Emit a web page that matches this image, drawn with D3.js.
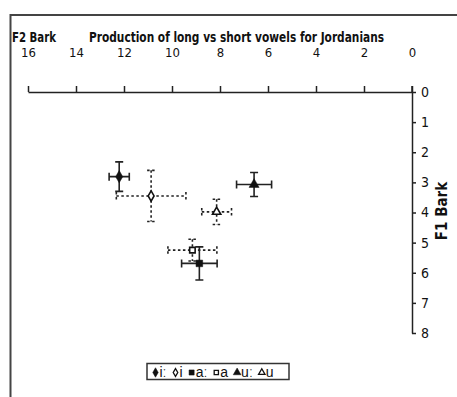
<!DOCTYPE html>
<html lang="en">
<head>
<meta charset="UTF-8">
<title>Production of long vs short vowels for Jordanians</title>
<script src="https://cdn.jsdelivr.net/npm/d3@7.9.0/dist/d3.min.js"></script>
<style>
  body { margin: 0; background: #fff; }
  svg text { font-family: "Liberation Sans Narrow", "Arial Narrow", "DejaVu Sans Condensed", sans-serif; fill: #111; }
  svg text.leg { font-family: "Liberation Sans", Arial, sans-serif; }
</style>
</head>
<body>
<div id="chart"></div>
<script>
// vowel means and standard deviations (Bark)
const vowels = ["iː", "i", "aː", "a", "uː", "u"];
const f2 = [12.2, 10.87, 8.86, 9.15, 6.58, 8.14];
const f1 = [2.81, 3.45, 5.69, 5.25, 3.07, 3.98];
const f2Err = [0.42, 1.45, 0.74, 1.02, 0.73, 0.62];
const f1Err = [0.49, 0.85, 0.55, 0.36, 0.40, 0.42];
const isLong = [true, false, true, false, true, false];
const xTicks = [16, 14, 12, 10, 8, 6, 4, 2, 0];
const yTicks = [0, 1, 2, 3, 4, 5, 6, 7, 8];

const W = 457, H = 397;
const ink = "#222";

const svg = d3.select("#chart").append("svg")
  .attr("width", W).attr("height", H);

// outer frame (right/bottom cut off in the original)
svg.append("rect")
  .attr("x", 10.5).attr("y", 15)
  .attr("width", W + 20).attr("height", H + 20)
  .attr("fill", "none").attr("stroke", "#444").attr("stroke-width", 2);

const x = d3.scaleLinear().domain([16, 0]).range([28, 412]);
const y = d3.scaleLinear().domain([0, 8]).range([92, 333]);

const shapes = [d3.symbolDiamond, d3.symbolDiamond, d3.symbolSquare,
                d3.symbolSquare, d3.symbolTriangle, d3.symbolTriangle];

// axes
const xAxis = svg.append("g")
  .attr("transform", `translate(0,${y(0)})`)
  .call(d3.axisTop(x).tickValues(xTicks).tickSize(6).tickPadding(29).tickSizeOuter(0));
xAxis.select(".domain").attr("stroke", ink).attr("stroke-width", 1.5);
xAxis.selectAll(".tick line").attr("stroke", ink).attr("stroke-width", 1.5);
xAxis.selectAll(".tick text").attr("font-size", 13).attr("fill", "#111");

const yAxis = svg.append("g")
  .attr("transform", `translate(${x(0)},0)`)
  .call(d3.axisRight(y).tickValues(yTicks).tickSize(4).tickPadding(5).tickSizeOuter(0));
yAxis.select(".domain").attr("stroke", ink).attr("stroke-width", 1.5);
yAxis.selectAll(".tick line").attr("stroke", ink).attr("stroke-width", 1.5);
yAxis.selectAll(".tick text").attr("font-size", 14).attr("fill", "#111");

// little cross at origin
svg.append("line")
  .attr("x1", x(0)).attr("x2", x(0))
  .attr("y1", y(0) - 6).attr("y2", y(0))
  .attr("stroke", ink).attr("stroke-width", 1.5);

// titles
svg.append("text").attr("x", 12).attr("y", 42)
  .attr("font-size", 14).attr("font-weight", "bold")
  .attr("textLength", 44).attr("lengthAdjust", "spacingAndGlyphs")
  .text("F2 Bark");
svg.append("text").attr("x", 89).attr("y", 42)
  .attr("font-size", 14).attr("font-weight", "bold")
  .attr("textLength", 295).attr("lengthAdjust", "spacingAndGlyphs")
  .text("Production of long vs short vowels for Jordanians");
svg.append("text")
  .attr("transform", "translate(447,211) rotate(-90)")
  .attr("text-anchor", "middle")
  .attr("font-size", 15).attr("font-weight", "bold").text("F1 Bark");

// error bars
const cap = 4;
const bars = svg.append("g").selectAll("g")
  .data(vowels.map((v, i) => i))
  .join("g")
  .attr("stroke", ink)
  .attr("stroke-width", 1.6)
  .attr("fill", "none")
  .attr("stroke-dasharray", i => isLong[i] ? null : "2.5,2.5");

bars.append("path").attr("d", i => {
  const cx = x(f2[i]), cy = y(f1[i]);
  const xl = x(f2[i] + f2Err[i]), xr = x(f2[i] - f2Err[i]);
  const yt = y(f1[i] - f1Err[i]), yb = y(f1[i] + f1Err[i]);
  return `M${xl},${cy}H${xr}` +
    `M${xl},${cy - cap}V${cy + cap}M${xr},${cy - cap}V${cy + cap}` +
    `M${cx},${yt}V${yb}` +
    `M${cx - cap},${yt}H${cx + cap}M${cx - cap},${yb}H${cx + cap}`;
});

// markers
svg.append("g").selectAll("path")
  .data(vowels.map((v, i) => i))
  .join("path")
  .attr("transform", i => `translate(${x(f2[i])},${y(f1[i])})`)
  .attr("d", i => d3.symbol(shapes[i], isLong[i] ? 44 : 30)())
  .attr("fill", i => isLong[i] ? "#111" : "#fff")
  .attr("stroke", "#111")
  .attr("stroke-width", i => isLong[i] ? 0.5 : 1.6);

// legend
const leg = svg.append("g");
leg.append("rect")
  .attr("x", 147).attr("y", 363.5).attr("width", 142).attr("height", 16)
  .attr("fill", "#fff").attr("stroke", "#333").attr("stroke-width", 1.5);
let lx = 155.5;
vowels.forEach((v, i) => {
  leg.append("path")
    .attr("transform", `translate(${lx},${372.5})`)
    .attr("d", d3.symbol(shapes[i], isLong[i] ? 26 : 18)())
    .attr("fill", isLong[i] ? "#111" : "#fff")
    .attr("stroke", "#111")
    .attr("stroke-width", isLong[i] ? 0.5 : 1.3);
  const t = leg.append("text").attr("class", "leg")
    .attr("x", lx + 4).attr("y", 377)
    .attr("font-size", 14).text(v);
  lx += 4 + t.node().getComputedTextLength() + 9;
});
</script>
</body>
</html>
